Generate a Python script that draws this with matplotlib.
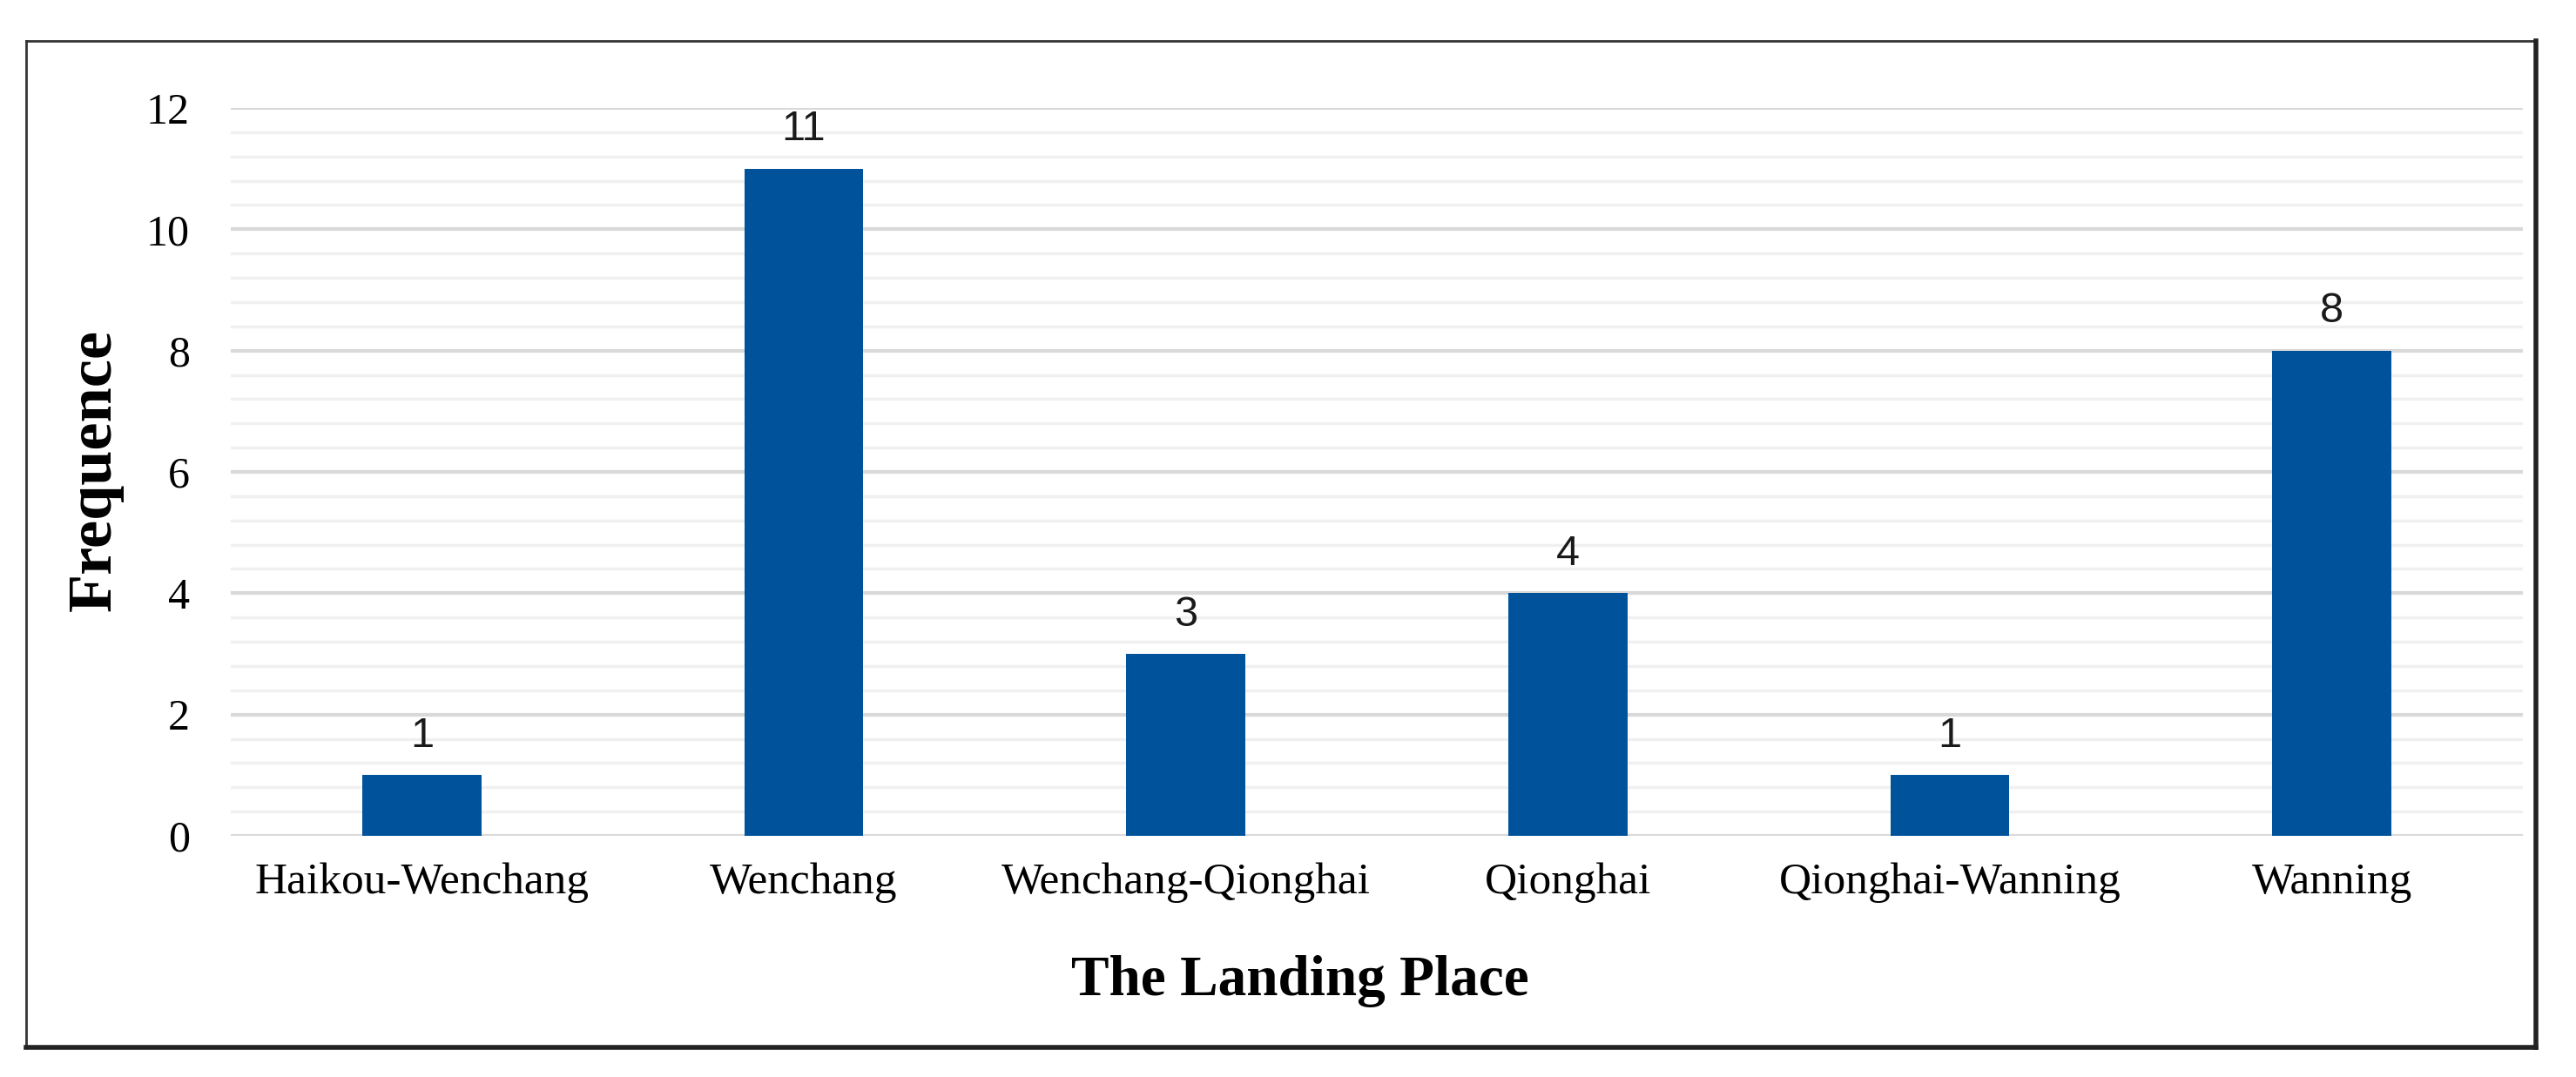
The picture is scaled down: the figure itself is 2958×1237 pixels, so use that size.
import matplotlib.pyplot as plt
from matplotlib.lines import Line2D
from matplotlib.ticker import MultipleLocator

places = ["Haikou-Wenchang", "Wenchang", "Wenchang-Qionghai",
          "Qionghai", "Qionghai-Wanning", "Wanning"]
counts = [1, 11, 3, 4, 1, 8]
y_ticks = [0, 2, 4, 6, 8, 10, 12]

W, H = 2958, 1237
fig = plt.figure(figsize=(W / 100, H / 100), dpi=100)
ax = fig.add_axes([265 / W, 1 - 960 / H, (2897 - 265) / W, (960 - 124) / H])

x = range(len(places))
bars = ax.bar(x, counts, width=0.312, color="#00529B", zorder=3)
ax.bar_label(bars, labels=[str(c) for c in counts], padding=16,
             fontsize=35, family="Liberation Sans", color="#1a1a1a")

ax.set_xlim(-0.5, len(places) - 0.5)
ax.set_ylim(0, 12)
ax.set_yticks(y_ticks)
ax.yaxis.set_minor_locator(MultipleLocator(0.4))
ax.set_xticks(list(x))
ax.set_xticklabels(places)

ax.grid(axis="y", which="major", color="#d9d9d9", lw=3, zorder=0)
ax.grid(axis="y", which="minor", color="#f0f0f0", lw=2.5, zorder=0)
ax.set_axisbelow(True)
for s in ax.spines.values():
    s.set_visible(False)
ax.tick_params(axis="both", which="both", length=0)
ax.tick_params(axis="x", pad=22, labelsize=37)
ax.tick_params(axis="y", pad=34, labelsize=36)
for lab in ax.get_xticklabels() + ax.get_yticklabels():
    lab.set_family("Liberation Serif")

fig.text(109 / W, 1 - 540 / H, "Frequence", rotation=90, ha="center", va="center",
         family="Liberation Serif", fontweight="bold", fontsize=52)
fig.text(1493 / W, 1 - 1143 / H, "The Landing Place", ha="center", va="baseline",
         family="Liberation Serif", fontweight="bold", fontsize=47)

# outer frame: thin on top/left, heavier on right/bottom
x0, x1 = 30 / W, 2912 / W
y0, y1 = 1 - 1203 / H, 1 - 47 / H
fig.add_artist(Line2D([x0, x1], [y1, y1], lw=2, color="#333333"))
fig.add_artist(Line2D([x0, x0], [y0, y1], lw=2, color="#333333"))
fig.add_artist(Line2D([x1, x1], [y0, y1], lw=4, color="#222222"))
fig.add_artist(Line2D([x0, x1], [y0, y0], lw=4, color="#222222"))

fig.savefig("out.png", dpi=100, facecolor="white")
